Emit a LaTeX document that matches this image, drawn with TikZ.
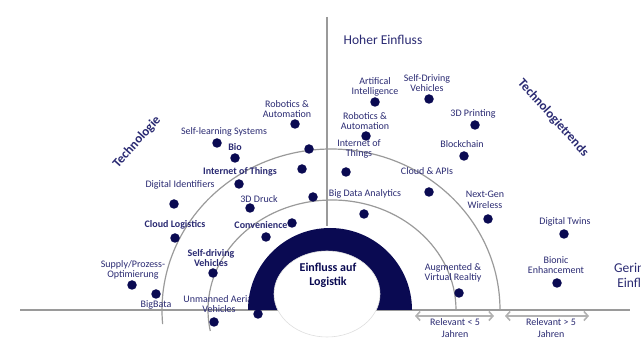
\documentclass[tikz,border=0pt]{standalone}
\usepackage{fontspec}
\setmainfont{Carlito}
\usetikzlibrary{arrows.meta}
\definecolor{navy}{HTML}{0A0A52}
\definecolor{navytext}{HTML}{2A2A72}
\definecolor{linegray}{HTML}{9A9A9A}
\definecolor{arrowgray}{HTML}{B2B2B2}
\tikzset{
  tdot/.style={circle,fill=navy,inner sep=0pt,minimum size=9.5pt},
  tlabel/.style={text=navytext,align=center,inner sep=0pt,font=\fontsize{10}{10.5}\selectfont},
  tbold/.style={tlabel,font=\fontsize{10}{10.5}\selectfont\bfseries},
  ttitle/.style={text=navytext,align=center,inner sep=0pt,font=\fontsize{13.5}{15}\selectfont},
  ttrend/.style={text=navytext,inner sep=0pt,font=\fontsize{13}{15}\selectfont\bfseries},
  relarrow/.style={arrowgray,line width=1.6pt,{Straight Barb[length=4pt,width=9pt]}-{Straight Barb[length=4pt,width=9pt]}}
}
\begin{document}
\begin{tikzpicture}[x=1pt,y=1pt]
  \useasboundingbox (0,-41) rectangle (641,310);
  \clip (0,-41) rectangle (641,310);
  % axes and arcs
  \draw[linegray,line width=1.2pt] (20,0) -- (630,0);
  \draw[linegray,line width=1.2pt] (327,293) -- (327,84);
  \draw[linegray,line width=1.2pt] (456,0) arc[start angle=0,end angle=191,x radius=124,y radius=110];
  \draw[linegray,line width=1.2pt] (500,0) arc[start angle=0,end angle=185,x radius=169,y radius=161];
  % titles
  \node[ttitle] (hoch) at (383,270) {Hoher Einfluss};
  \node[ttitle] (gering) at (638,35) {Geringer\\Einfluss};
  \node[ttrend,rotate=48] (tech) at (137,168) {Technologie};
  \node[ttrend,rotate=-48] (trends) at (553,192) {Technologietrends};
  % left side
  \node[tlabel] (robl) at (287,201) {Robotics \&\\Automation};
  \node[tdot] (robl-d) at (295,186) {};
  \node[tlabel] (self) at (224,178) {Self-learning Systems};
  \node[tdot] (self-d) at (217,167) {};
  \node[tbold] (bio) at (235,163) {Bio};
  \node[tdot] (bio-d) at (235,152) {};
  \node[tbold] (iotl) at (240,138) {Internet of Things};
  \node[tdot] (iotl-d) at (239,126) {};
  \node[tlabel] (digid) at (180,125) {Digital Identifiers};
  \node[tdot] (digid-d) at (174,106) {};
  \node[tlabel] (druck) at (259,111) {3D Druck};
  \node[tdot] (druck-d) at (250,102) {};
  \node[tbold] (cloudl) at (175,85) {Cloud Logistics};
  \node[tdot] (cloudl-d) at (175,72) {};
  \node[tbold] (conv) at (261,85) {Convenience};
  \node[tdot] (conv-d) at (266,73) {};
  \node[tbold] (sdv) at (211,52) {Self-driving\\Vehicles};
  \node[tdot] (sdv-d) at (213,37) {};
  \node[tlabel] (supply) at (133,40) {Supply/Prozess-\\Optimierung};
  \node[tdot] (supply-d) at (132,25) {};
  \node[tlabel] (bigb) at (156,5) {BigBata};
  \node[tdot] (bigb-d) at (156,16) {};
  \node[tlabel] (uav) at (219,6) {Unmanned Aerial\\Vehicles};
  \node[tdot] (uav-d) at (214,-12) {};
  % right side
  \node[tlabel] (ai) at (375,223) {Artifical\\Intelligence};
  \node[tdot] (ai-d) at (375,208) {};
  \node[tlabel] (sdvr) at (427,227) {Self-Driving\\Vehicles};
  \node[tdot] (sdvr-d) at (429,211) {};
  \node[tlabel] (robr) at (365,189) {Robotics \&\\Automation};
  \node[tdot] (robr-d) at (366,174) {};
  \node[tlabel] (iotr) at (359,161) {Internet of\\Things};
  \node[tdot] (iotr-d) at (346,138) {};
  \node[tlabel] (print) at (473,196) {3D Printing};
  \node[tdot] (print-d) at (475,185) {};
  \node[tlabel] (block) at (462,166) {Blockchain};
  \node[tdot] (block-d) at (464,154) {};
  \node[tlabel] (cloudr) at (427,139) {Cloud \& APIs};
  \node[tdot] (cloudr-d) at (429,118) {};
  \node[tlabel] (bda) at (365,116) {Big Data Analytics};
  \node[tdot] (bda-d) at (364,96) {};
  \node[tlabel] (ngw) at (485,110) {Next-Gen\\Wireless};
  \node[tdot] (ngw-d) at (488,91) {};
  \node[tlabel] (twin) at (565,88) {Digital Twins};
  \node[tdot] (twin-d) at (564,76) {};
  \node[tlabel] (bion) at (556,45) {Bionic\\Enhancement};
  \node[tdot] (bion-d) at (557,27) {};
  \node[tlabel] (arvr) at (453,37) {Augmented \&\\Virtual Realtiy};
  \node[tdot] (arvr-d) at (459,17) {};
  % centre ring
  \fill[navy] (248,0) arc[start angle=180,end angle=0,radius=82] -- cycle;
  \filldraw[fill=white,draw=gray!25,line width=0.6pt] (327,16) ellipse[x radius=53,y radius=43];
  \node[tbold,font=\fontsize{12}{14}\selectfont\bfseries,text=navy] (logistik) at (328,35) {Einfluss auf\\Logistik};
  % dots without label
  \foreach \x/\y [count=\k] in {309/161,302/141,313/113,292/87,258/-4}
    \node[tdot] (extra\k) at (\x,\y) {};
  % relevance arrows
  \coordinate (r1a) at (415,-6);
  \coordinate (r1b) at (494,-6);
  \coordinate (r2a) at (505,-6);
  \coordinate (r2b) at (589,-6);
  \draw[relarrow] (r1a) -- (r1b);
  \draw[relarrow] (r2a) -- (r2b);
  \node[tlabel,font=\fontsize{10}{11.5}\selectfont] (rel5) at (455,-18) {Relevant < 5\\Jahren};
  \node[tlabel,font=\fontsize{10}{11.5}\selectfont] (relg5) at (551,-18) {Relevant > 5\\Jahren};
\end{tikzpicture}
\end{document}
